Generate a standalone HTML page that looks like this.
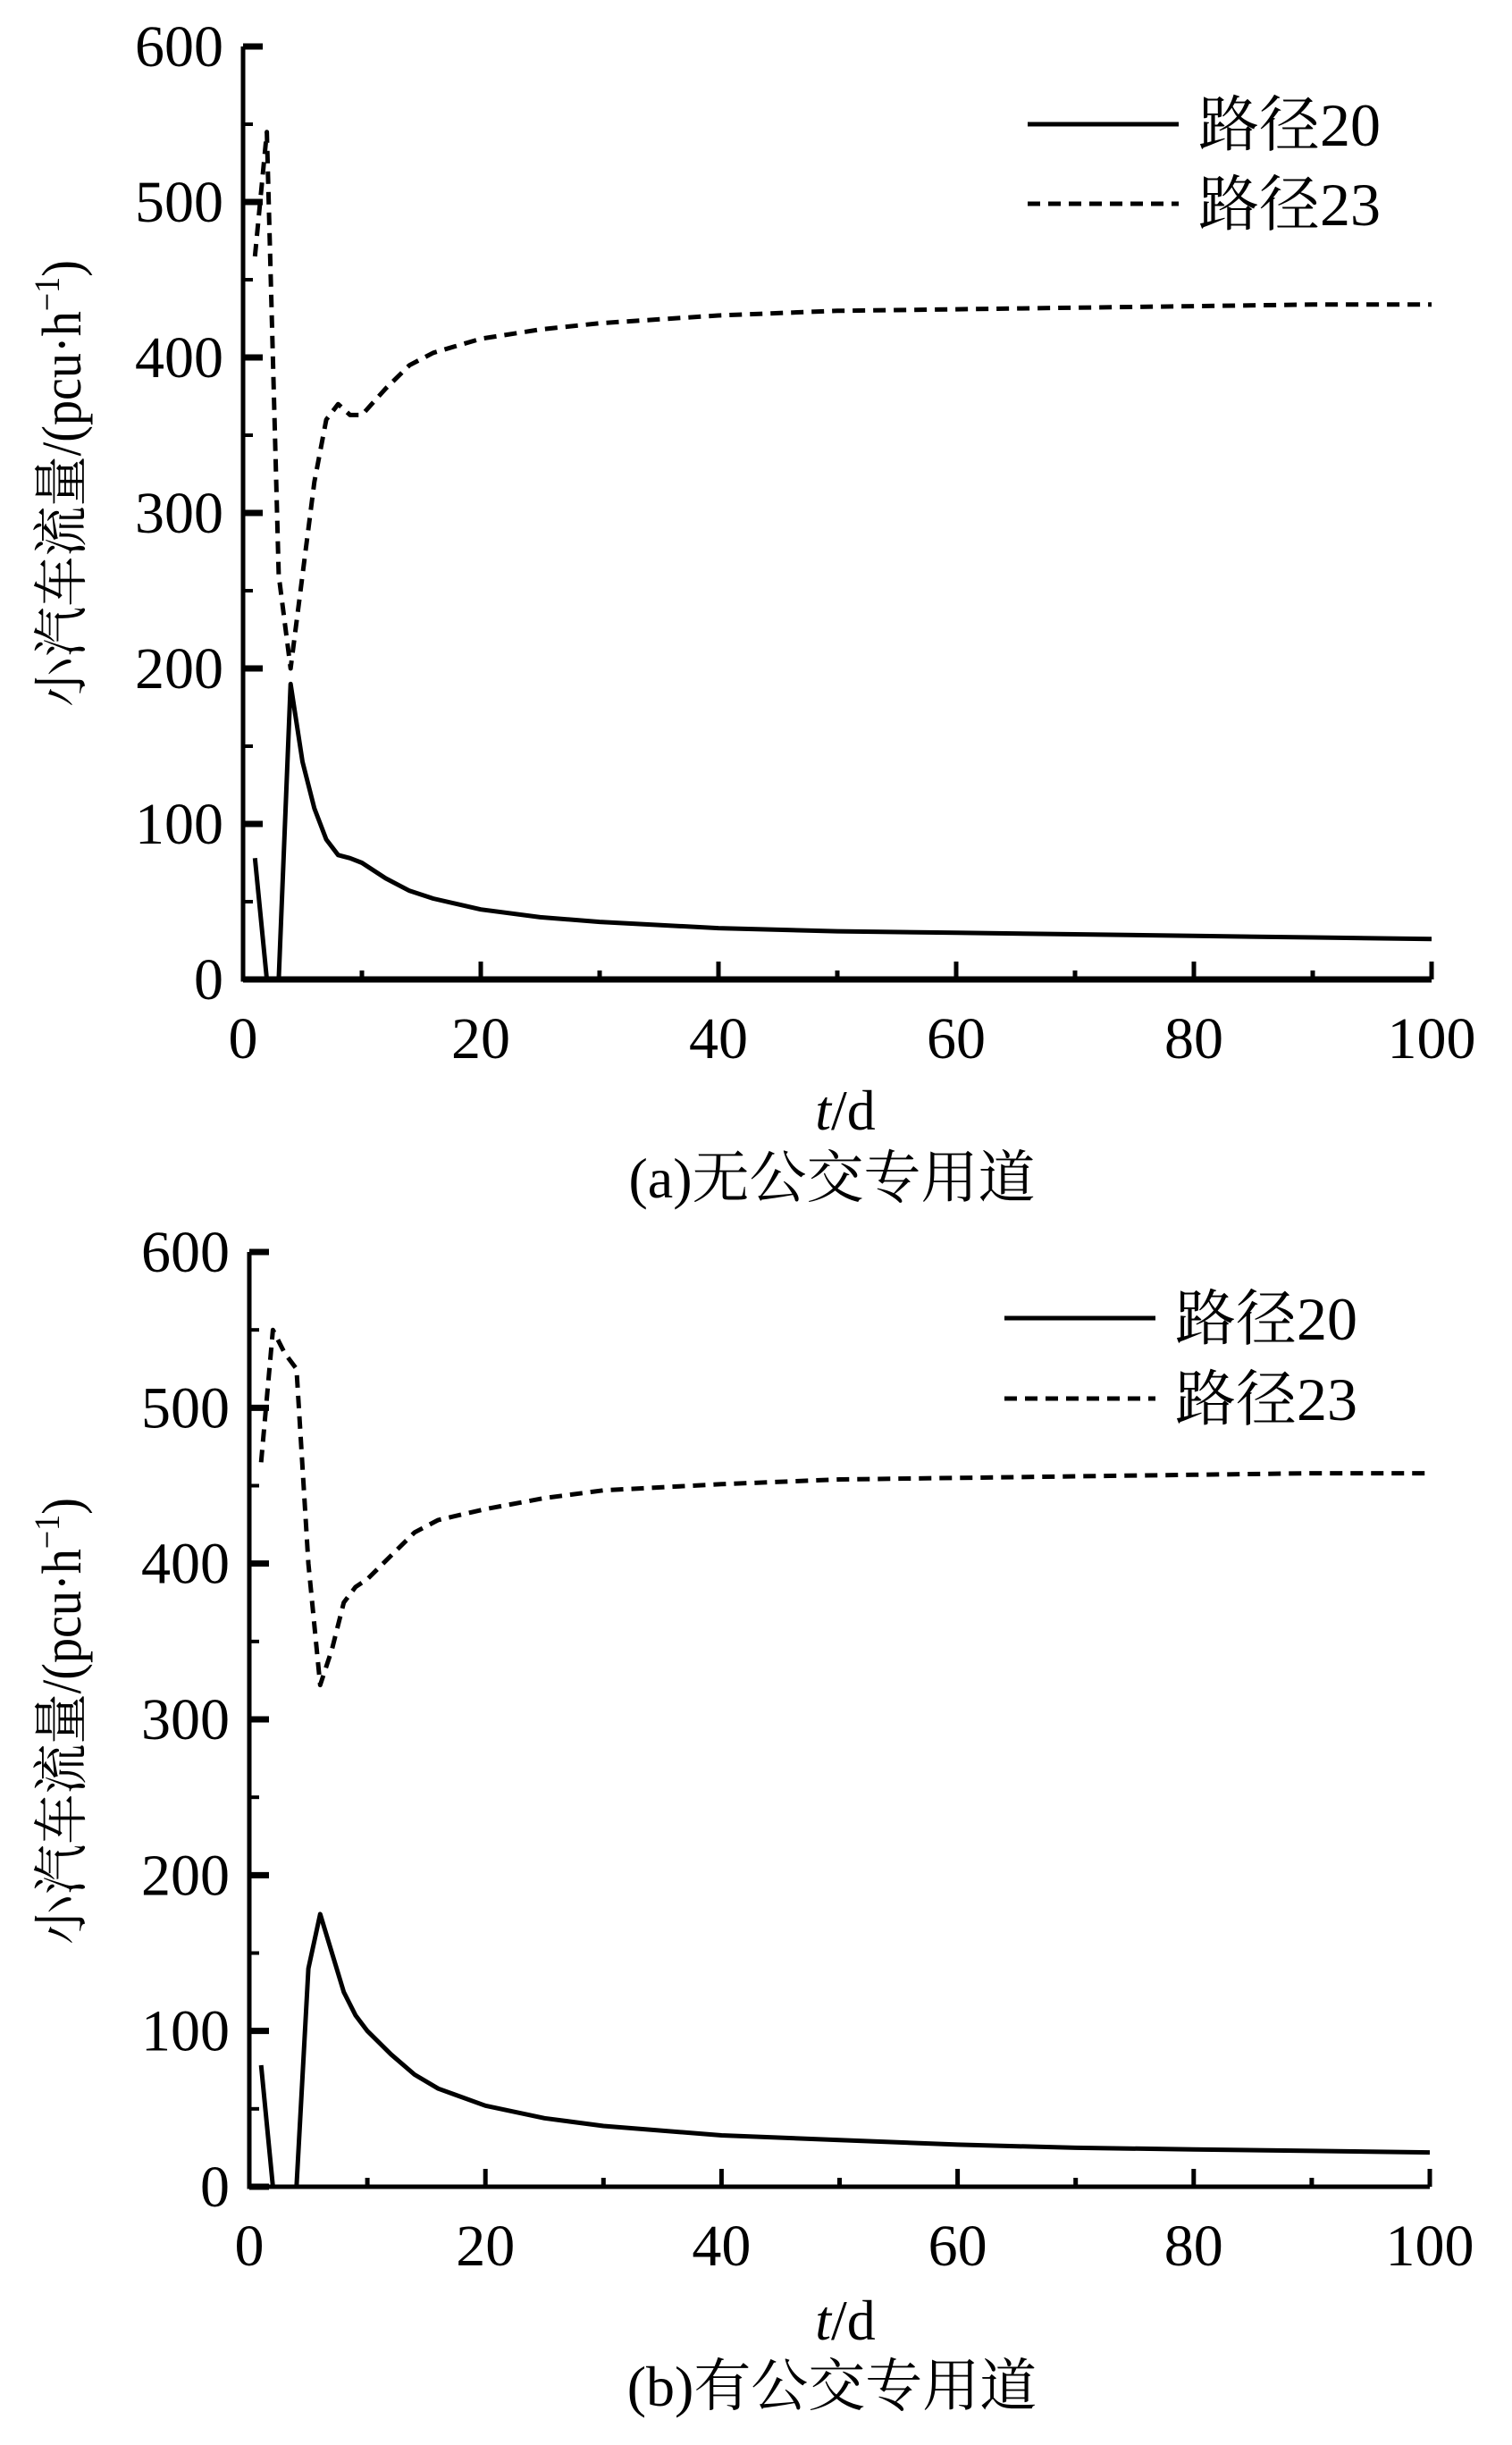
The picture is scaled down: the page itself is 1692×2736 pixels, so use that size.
<!DOCTYPE html>
<html><head><meta charset="utf-8">
<style>
html,body{margin:0;padding:0;background:#fff;}
svg{display:block;}
text{font-family:"Liberation Serif","Noto Serif CJK SC",serif;fill:#000;}
.cjk{font-family:"Liberation Serif","Noto Serif CJK SC",serif;}
</style></head>
<body>
<svg id="chart" width="1692" height="2736" viewBox="0 0 1692 2736" xmlns="http://www.w3.org/2000/svg"></svg>
<script>
const tDays = [1,2,3,4,5,6,7,8,9,10,12,14,16,20,25,30,40,50,60,70,80,90,100];
const aRoute20 = [78,0,0,190,140,110,90,80,78,75,65,57,52,45,40,37,33,31,30,29,28,27,26];
const aRoute23 = [465,545,260,200,260,320,360,370,363,363,380,395,403,412,418,422,427,430,431,432,433,434,434];
const bRoute20 = [78,0,0,0,140,175,150,125,110,100,85,72,63,52,44,39,33,30,27,25,24,23,22];
const bRoute23 = [465,550,535,525,400,322,345,375,385,390,405,420,428,435,442,447,451,454,455,456,457,458,458];
const xTicks = [0,20,40,60,80,100];
const yTicks = [0,100,200,300,400,500,600];
const legendLabels = ['路径20','路径23'];

const svg = document.getElementById('chart');
const NS = 'http://www.w3.org/2000/svg';
function mk(tag, attrs, parent){const e=document.createElementNS(NS,tag);for(const k in attrs)e.setAttribute(k,attrs[k]);(parent||svg).appendChild(e);return e;}

function panel(p){
  const g = mk('g',{});
  
  
  const X = v => p.x0 + (v/100)*(p.x1-p.x0);
  const Y = v => p.y0 - (v/600)*(p.y0-p.y1);
  for(let v=0; v<=100; v+=10){
    const major = v%20===0;
    const t = mk('line',{x1:X(v),x2:X(v),y1:p.y0,y2:p.y0-(major?20:10),stroke:'#000','stroke-width':5},g);
    
    
  }
  for(let v=0; v<=600; v+=50){
    const major = v%100===0;
    const t = mk('line',{x1:p.x0,x2:p.x0+(major?22:11),y1:Y(v),y2:Y(v),stroke:'#000','stroke-width':major?7:4},g);
    
    
  }
  const ax = mk('path',{d:`M${p.x0},${Y(600)} L${p.x0},${p.y0} L${X(100)},${p.y0}`,fill:'none',stroke:'#000','stroke-width':5},g);
  
  
  mk('line',{x1:p.x0,x2:X(100),y1:p.y0,y2:p.y0,stroke:'#000','stroke-width':p.bw},g);
  xTicks.forEach(v=>{
    const t = mk('text',{x:X(v),y:p.y0+88,'font-size':66,'text-anchor':'middle'},g);
    t.textContent = v;
    
    
  });
  yTicks.forEach(v=>{
    const t = mk('text',{x:p.x0-22,y:Y(v)+22,'font-size':66,'text-anchor':'end'},g);
    t.textContent = v;
    
    
  });
  const series = [[p.s20,null],[p.s23,'14 9']];
  series.forEach((s,i)=>{
    const d = tDays.map((t,j)=>(j?'L':'M')+X(t).toFixed(1)+','+Y(s[0][j]).toFixed(1)).join(' ');
    const attrs = {d,fill:'none',stroke:'#000','stroke-width':5,'stroke-linejoin':'round'};
    if(s[1]) attrs['stroke-dasharray']=s[1];
    const l = mk('path',attrs,g);
    
    
    const ly = p.ly[i];
    const ll = mk('line',{x1:p.lx0,x2:p.lx1,y1:ly,y2:ly,stroke:'#000','stroke-width':5},g);
    if(s[1]) ll.setAttribute('stroke-dasharray',s[1]);
    
    
    const lt = mk('text',{x:p.lx1+22,y:ly+24,'font-size':68,class:'cjk'},g);
    lt.textContent = legendLabels[i];
    
    
  });
  const yt = mk('text',{x:0,y:0,'font-size':62,'text-anchor':'middle',class:'cjk',transform:`translate(${p.ytx},${p.yty}) rotate(-90)`,textLength:500,lengthAdjust:'spacingAndGlyphs'},g);
  yt.textContent = '小汽车流量/(pcu·h';
  const sup = mk('tspan',{dy:-24,'font-size':40},yt); sup.textContent='−1';
  const cl = mk('tspan',{dy:24},yt); cl.textContent=')';
  
  
  const xt = mk('text',{x:p.xtx,y:p.xty,'font-size':64,'text-anchor':'middle'},g);
  const it = mk('tspan',{'font-style':'italic'},xt); it.textContent='t';
  const rest = mk('tspan',{},xt); rest.textContent='/d';
  
  
  const cap = mk('text',{x:p.xtx-15,y:p.cy,'font-size':64,'text-anchor':'middle',class:'cjk'},g);
  cap.textContent = p.caption;
  
  
}

panel({name:'panel-a',x0:272,x1:1602,y0:1096,y1:52,bw:7,s20:aRoute20,s23:aRoute23,
  lx0:1150,lx1:1319,ly:[139,228],ytx:90,yty:541,xtx:946,xty:1264,cy:1340,caption:'(a)无公交专用道'});
panel({name:'panel-b',x0:279,x1:1600,y0:2447,y1:1401,bw:5,s20:bRoute20,s23:bRoute23,
  lx0:1124,lx1:1293,ly:[1475,1565],ytx:90,yty:1926,xtx:946,xty:2618,cy:2692,caption:'(b)有公交专用道'});
</script>
</body></html>
